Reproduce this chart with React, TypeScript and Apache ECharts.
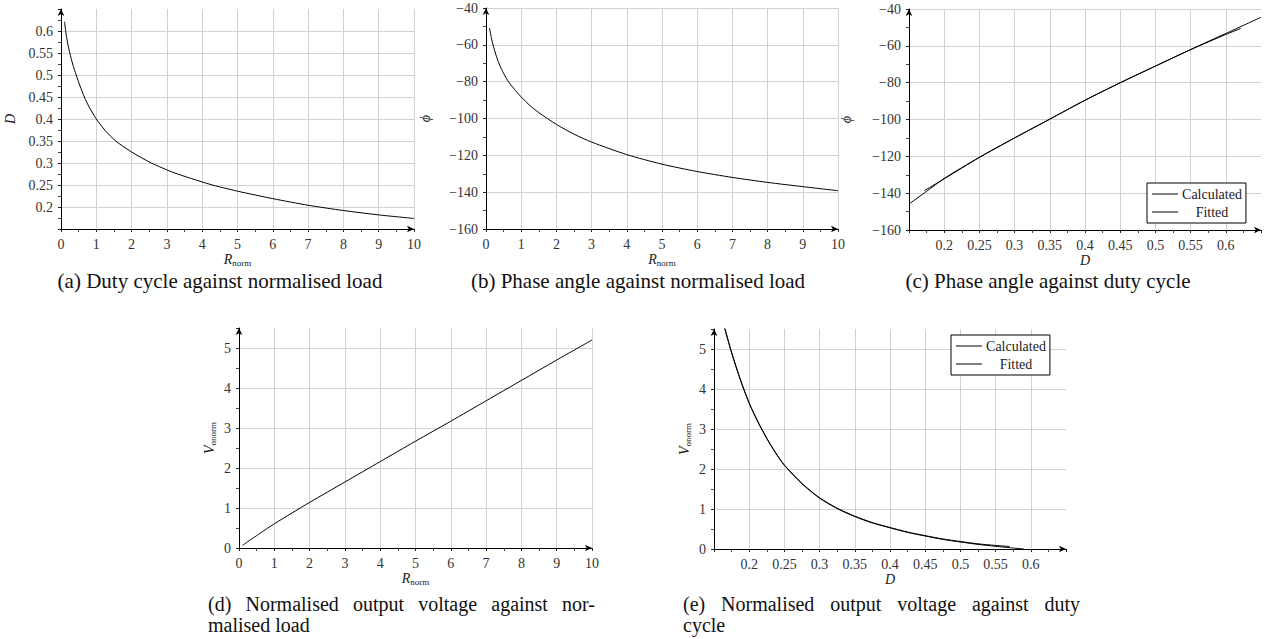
import React, { useEffect, useRef } from "react";
import * as echarts from "echarts";

// ---------- data ----------
// (a) duty cycle vs normalised load
const R_A = [0.1, 0.15, 0.2, 0.25, 0.33, 0.43, 0.54, 0.66, 0.8, 1.0, 1.25, 1.55, 2, 2.56, 3.2, 4.2, 5, 6, 7, 8, 9, 10];
const D_A = [0.621, 0.59, 0.568, 0.55, 0.525, 0.5, 0.475, 0.45, 0.427, 0.4, 0.374, 0.35, 0.325, 0.3, 0.278, 0.252, 0.236, 0.219, 0.204, 0.192, 0.182, 0.174];
// (b) phase angle vs normalised load
const R_B = [0.1, 0.15, 0.2, 0.3, 0.4, 0.5, 0.62, 0.8, 1, 1.25, 1.5, 2, 2.5, 3, 4, 5, 6, 7, 8, 9, 10];
const PHI_B = [-50.9, -56, -60, -66.5, -71.5, -75.5, -79.5, -84, -88.3, -93, -96.8, -103.2, -108.5, -112.8, -119.6, -124.8, -128.8, -132, -134.7, -137, -139.2];
// (c) phase angle vs duty cycle
const D_C_CALC = [0.15, 0.175, 0.2, 0.25, 0.3, 0.35, 0.4, 0.45, 0.5, 0.55, 0.6, 0.65];
const PHI_C_CALC = [-145.9, -139, -132, -120.5, -110, -99.8, -89.5, -80, -71, -62, -53.3, -44.5];
const D_C_FIT = [0.172, 0.2, 0.25, 0.3, 0.35, 0.4, 0.45, 0.5, 0.55, 0.6, 0.621];
const PHI_C_FIT = [-138.6, -132.2, -120.6, -110, -99.8, -89.6, -80.1, -71, -62.1, -53.8, -50.6];
// (d) normalised output voltage vs normalised load
const R_D = [0.1, 0.25, 0.5, 0.75, 1, 1.5, 2, 3, 4, 5, 6, 7, 8, 9, 10];
const V_D = [0.067, 0.16, 0.31, 0.46, 0.605, 0.875, 1.14, 1.65, 2.16, 2.67, 3.17, 3.68, 4.19, 4.7, 5.2];
// (e) normalised output voltage vs duty cycle
const D_E_CALC = [0.165, 0.175, 0.1875, 0.2, 0.2125, 0.225, 0.2375, 0.25, 0.275, 0.3, 0.325, 0.35, 0.375, 0.4, 0.425, 0.45, 0.475, 0.5, 0.525, 0.55, 0.57];
const V_E_CALC = [5.55, 4.92, 4.24, 3.65, 3.18, 2.77, 2.41, 2.1, 1.64, 1.28, 1.02, 0.82, 0.66, 0.537, 0.424, 0.334, 0.251, 0.188, 0.129, 0.089, 0.063];
const D_E_FIT = [0.165, 0.175, 0.1875, 0.2, 0.2125, 0.225, 0.2375, 0.25, 0.275, 0.3, 0.325, 0.35, 0.375, 0.4, 0.425, 0.45, 0.475, 0.5, 0.525, 0.55, 0.57, 0.59];
const V_E_FIT = [5.52, 4.9, 4.22, 3.64, 3.17, 2.76, 2.4, 2.09, 1.63, 1.27, 1.01, 0.81, 0.65, 0.53, 0.415, 0.325, 0.24, 0.175, 0.115, 0.068, 0.032, 0.0];

const LEGEND_NAMES = ["Calculated", "Fitted"];
const CAPTIONS = [
  "(a) Duty cycle against normalised load",
  "(b) Phase angle against normalised load",
  "(c) Phase angle against duty cycle",
];
const CAPTION_D = ["(d) Normalised output voltage against nor-", "malised load"];
const CAPTION_E = ["(e) Normalised output voltage against duty", "cycle"];

const FONT = "Liberation Serif, Times New Roman, serif";
const TICK = 14;
const zip = (xs: number[], ys: number[]) => xs.map((x, i) => [x, ys[i]]);
const fmt = (v: number) => {
  const s = String(+v.toFixed(4));
  return s.replace("-", "\u2212");
};

function valueAxis(o: any) {
  return {
    type: "value",
    gridIndex: o.grid,
    min: o.min,
    max: o.max,
    interval: o.interval,
    name: o.name,
    nameLocation: "middle",
    nameGap: o.nameGap,
    nameRotate: o.nameRotate,
    nameTextStyle: {
      fontFamily: FONT,
      fontSize: TICK,
      color: "#222",
      rich: {
        i: { fontFamily: FONT, fontSize: TICK, fontStyle: "italic", color: "#222", lineHeight: 16 },
        s: { fontFamily: FONT, fontSize: 9, color: "#222", verticalAlign: "bottom", lineHeight: 12 },
      },
    },
    axisLine: {
      show: true,
      onZero: false,
      symbol: ["none", "arrow"],
      symbolSize: [5, 7],
      lineStyle: { color: "#000", width: 1 },
    },
    axisTick: { show: true, length: 3, lineStyle: { color: "#222" } },
    minorTick: { show: true, splitNumber: 2, length: 3, lineStyle: { color: "#444" } },
    splitLine: {
      show: true,
      showMinLine: o.showMinLine !== false,
      showMaxLine: o.showMaxLine !== false,
      lineStyle: { color: "#d2d2d2", width: 1 },
    },
    axisLabel: {
      fontFamily: FONT,
      fontSize: TICK,
      color: "#333",
      margin: o.labelMargin ?? 8,
      showMinLabel: o.showMinLabel !== false,
      showMaxLabel: o.showMaxLabel !== false,
      formatter: (v: number) => fmt(v),
    },
  };
}

function lineSeries(name: string, x: number, data: number[][]) {
  return {
    type: "line",
    name,
    xAxisIndex: x,
    yAxisIndex: x,
    data,
    symbol: "none",
    showSymbol: false,
    smooth: 0.25,
    color: "#000",
    lineStyle: { color: "#000", width: 1 },
    clip: true,
    silent: true,
  };
}

function measure(text: string, size: number) {
  const c = document.createElement("canvas").getContext("2d");
  if (!c) return text.length * size * 0.45;
  c.font = `${size}px ${FONT}`;
  return c.measureText(text).width;
}

function textEl(text: string, x: number, y: number, size: number, align: string) {
  return {
    type: "text",
    x,
    y,
    silent: true,
    style: {
      text,
      fill: "#111",
      fontFamily: FONT,
      fontSize: size,
      textAlign: align,
      align,
      textVerticalAlign: "middle",
      verticalAlign: "middle",
    },
  };
}

function justified(line: string, x0: number, x1: number, y: number, size: number) {
  const words = line.split(" ");
  const widths = words.map((w) => measure(w, size));
  const total = widths.reduce((a, b) => a + b, 0);
  const gap = (x1 - x0 - total) / (words.length - 1);
  let x = x0;
  return words.map((w, i) => {
    const el = textEl(w, x, y, size, "left");
    x += widths[i] + gap;
    return el;
  });
}

const legendBase = (left: number, top: number) => ({
  data: LEGEND_NAMES,
  left,
  top,
  orient: "vertical",
  selectedMode: false,
  borderColor: "#000",
  borderWidth: 1,
  borderRadius: 0,
  backgroundColor: "#fff",
  padding: [4, 4, 4, 5],
  itemGap: 4,
  itemWidth: 26,
  itemHeight: 1,
  icon: "rect",
  formatter: (n: string) => `{c|${n}}`,
  textStyle: {
    fontFamily: FONT,
    fontSize: TICK,
    color: "#222",
    rich: { c: { fontFamily: FONT, fontSize: TICK, color: "#222", width: 58, align: "center", lineHeight: 14 } },
  },
});

export default function App() {
  const ref = useRef<HTMLDivElement>(null);
  useEffect(() => {
    if (!ref.current) return;
    const chart = echarts.init(ref.current, undefined, { renderer: "svg" });
    const Rname = "{i|R}{s|norm}";
    const Vname = "{i|V}{s|onorm}";
    const Dname = "{i|D}";
    const PHIname = "{i|\u03D5}";
    const CAP = 21;
    const CAP2 = 20;

    const option: any = {
      animation: false,
      backgroundColor: "#fff",
      textStyle: { fontFamily: FONT },
      grid: [
        { left: 61, top: 9, width: 353, height: 220, outerBoundsMode: "none" },
        { left: 486, top: 8, width: 352, height: 221, outerBoundsMode: "none" },
        { left: 909, top: 9, width: 352, height: 221, outerBoundsMode: "none" },
        { left: 239, top: 328, width: 353, height: 220, outerBoundsMode: "none" },
        { left: 714, top: 329, width: 352, height: 220, outerBoundsMode: "none" },
      ],
      xAxis: [
        valueAxis({ grid: 0, min: 0, max: 10, interval: 1, name: Rname, nameGap: 22 }),
        valueAxis({ grid: 1, min: 0, max: 10, interval: 1, name: Rname, nameGap: 22 }),
        valueAxis({ grid: 2, min: 0.15, max: 0.65, interval: 0.05, name: Dname, nameGap: 22, showMinLabel: false, showMaxLabel: false, showMaxLine: false }),
        valueAxis({ grid: 3, min: 0, max: 10, interval: 1, name: Rname, nameGap: 22 }),
        valueAxis({ grid: 4, min: 0.15, max: 0.65, interval: 0.05, name: Dname, nameGap: 22, showMinLabel: false, showMaxLabel: false, showMaxLine: false }),
      ],
      yAxis: [
        valueAxis({ grid: 0, min: 0.15, max: 0.65, interval: 0.05, name: Dname, nameGap: 43, nameRotate: 90, showMinLabel: false, showMaxLabel: false, showMaxLine: false }),
        valueAxis({ grid: 1, min: -160, max: -40, interval: 20, name: PHIname, nameGap: 53, nameRotate: 90 }),
        valueAxis({ grid: 2, min: -160, max: -40, interval: 20, name: PHIname, nameGap: 55, nameRotate: 90 }),
        valueAxis({ grid: 3, min: 0, max: 5.5, interval: 1, name: Vname, nameGap: 22, nameRotate: 90, showMaxLabel: false, showMaxLine: false }),
        valueAxis({ grid: 4, min: 0, max: 5.5, interval: 1, name: Vname, nameGap: 22, nameRotate: 90, showMaxLabel: false, showMaxLine: false }),
      ],
      legend: [legendBase(1147, 183), legendBase(951, 335)],
      series: [
        lineSeries("a", 0, zip(R_A, D_A)),
        lineSeries("b", 1, zip(R_B, PHI_B)),
        lineSeries("Calculated", 2, zip(D_C_CALC, PHI_C_CALC)),
        lineSeries("Fitted", 2, zip(D_C_FIT, PHI_C_FIT)),
        lineSeries("d", 3, zip(R_D, V_D)),
        lineSeries("Calculated", 4, zip(D_E_CALC, V_E_CALC)),
        lineSeries("Fitted", 4, zip(D_E_FIT, V_E_FIT)),
      ],
      graphic: [
        textEl(CAPTIONS[0], 220, 281, CAP, "center"),
        textEl(CAPTIONS[1], 638, 281, CAP, "center"),
        textEl(CAPTIONS[2], 1048, 281, CAP, "center"),
        ...justified(CAPTION_D[0], 208, 595, 604, CAP2),
        textEl(CAPTION_D[1], 208, 625, CAP2, "left"),
        ...justified(CAPTION_E[0], 683, 1080, 604, CAP2),
        textEl(CAPTION_E[1], 683, 625, CAP2, "left"),
      ],
    };
    chart.setOption(option);
    return () => chart.dispose();
  }, []);
  return (
    <div
      ref={ref}
      style={{ position: "absolute", left: 0, top: 0, width: 1273, height: 639, background: "#fff" }}
    />
  );
}
